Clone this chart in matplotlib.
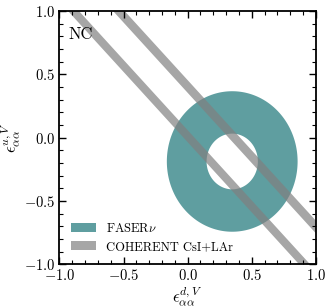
import numpy as np
import matplotlib
matplotlib.use("Agg")
import matplotlib.pyplot as plt
from matplotlib.path import Path
from matplotlib.patches import PathPatch

plt.rcParams['font.family'] = ['cmr10', 'DejaVu Serif']
plt.rcParams['mathtext.fontset'] = 'cm'
plt.rcParams['axes.formatter.use_mathtext'] = True
plt.rcParams['axes.unicode_minus'] = True

# FASERnu allowed region (annulus)
faser_center = [0.348, -0.188]
faser_outer = [0.51, 0.555]   # semi-axes (d, u)
faser_inner = [0.20, 0.22]

# COHERENT CsI+LAr bands: eps_u = c - slope * eps_d
coh_slope = 1.11
coh_lo = [-0.035, 0.355]
coh_hi = [0.06, 0.455]

teal = '#5F9EA0'


def ring(center, radii, reverse=False):
    t = np.linspace(0, 2 * np.pi, 200)
    if reverse:
        t = t[::-1]
    return np.column_stack([center[0] + radii[0] * np.cos(t),
                            center[1] + radii[1] * np.sin(t)])


fig = plt.figure(figsize=(3.3, 3.08), dpi=100)
ax = fig.add_axes([0.18, 0.142, 0.777, 0.822])

outer = ring(faser_center, faser_outer)
inner = ring(faser_center, faser_inner, reverse=True)
verts = np.concatenate([outer, inner])
codes = np.full(len(verts), Path.LINETO)
codes[0] = Path.MOVETO
codes[len(outer)] = Path.MOVETO
codes[len(outer) - 1] = Path.CLOSEPOLY
codes[-1] = Path.CLOSEPOLY
ax.add_patch(PathPatch(Path(verts, codes), facecolor=teal, edgecolor='none',
                       label=r'FASER$\nu$'))

xs = np.linspace(-1.3, 1.3, 50)
for i, (lo, hi) in enumerate(zip(coh_lo, coh_hi)):
    ax.fill_between(xs, lo - coh_slope * xs, hi - coh_slope * xs,
                    color='gray', alpha=0.7, linewidth=0,
                    label='COHERENT CsI+LAr' if i == 0 else None)

ax.text(-0.93, 0.82, 'NC', fontsize=12, va='center', ha='left')

ax.set_xlim(-1, 1)
ax.set_ylim(-1, 1)
ax.set_xticks([-1, -0.5, 0, 0.5, 1])
ax.set_yticks([-1, -0.5, 0, 0.5, 1])
ax.minorticks_on()
ax.tick_params(which='both', direction='in', top=True, right=True, labelsize=10.5, pad=3)
ax.tick_params(which='major', length=5, width=1)
ax.tick_params(which='minor', length=3, width=0.8)
for s in ax.spines.values():
    s.set_linewidth(1.3)

ax.set_xlabel(r'$\epsilon^{d,V}_{\alpha\alpha}$', fontsize=12, labelpad=1)
ax.set_ylabel(r'$\epsilon^{u,V}_{\alpha\alpha}$', fontsize=12, labelpad=1)

ax.legend(loc='lower left', frameon=False, fontsize=9)

fig.savefig('out.png', dpi=100)
